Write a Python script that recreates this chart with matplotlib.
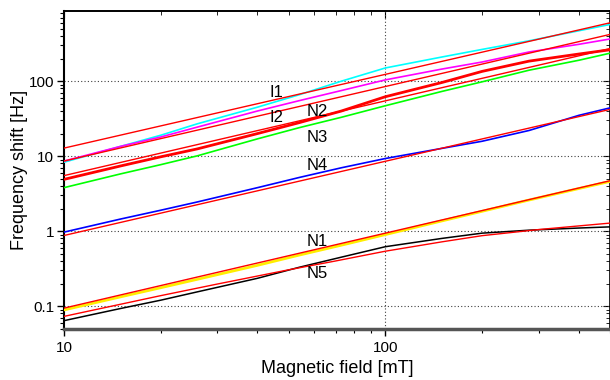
import matplotlib
matplotlib.use("Agg")
import matplotlib.pyplot as plt
from matplotlib.ticker import LogLocator, NullFormatter, FixedLocator, FixedFormatter

plt.rcParams['font.family'] = ['Liberation Sans', 'DejaVu Sans']

# ---- data ----
field = [10, 15, 20, 26, 40, 54, 73, 100, 150, 200, 280, 400, 500]

i1_cyan = [8.3, 13.5, 19, 27, 45, 66, 100, 150, 210, 265, 345, 470, 570]
i2_magenta = [8.6, 13.5, 18, 24.4, 40, 55, 75, 104, 145, 180, 245, 310, 365]
n2_red = [4.9, 7.4, 9.8, 12.5, 20, 28, 40, 62, 96, 135, 185, 230, 262]
n3_green = [3.8, 5.8, 7.7, 10.1, 17, 24, 33, 47, 73, 98, 140, 190, 236]
n4_blue = [0.97, 1.45, 1.9, 2.45, 3.8, 5.2, 7.0, 9.3, 12.7, 15.8, 22, 35, 44]
n1_yellow = [0.089, 0.133, 0.176, 0.228, 0.35, 0.48, 0.65, 0.9, 1.37, 1.84, 2.6, 3.7, 4.6]
n5_black = [0.064, 0.093, 0.12, 0.155, 0.235, 0.33, 0.45, 0.62, 0.80, 0.94, 1.03, 1.10, 1.14]

fit_ends = [10, 500]
fit_i1 = [12.8, 600]
fit_i2 = [8.6, 420]
fit_n2 = [5.5, 272]
fit_n4 = [0.875, 42]
fit_n1 = [0.094, 4.7]

n5_fit_field = [10, 20, 30, 50, 70, 100, 150, 200, 300, 500]
n5_fit = [0.073, 0.138, 0.197, 0.305, 0.40, 0.54, 0.72, 0.87, 1.05, 1.28]

labels = ['I1', 'I2', 'N2', 'N3', 'N4', 'N1', 'N5']
label_x = [45.9, 45.9, 61.5, 61.5, 61.5, 61.5, 61.5]
label_y = [69.8, 32.4, 39, 17.5, 7.43, 0.72, 0.27]

x_ticks = [10, 100]
x_ticklabels = ['10', '100']
y_ticks = [0.1, 1, 10, 100]
y_ticklabels = ['0.1', '1', '10', '100']

# ---- figure ----
fig = plt.figure(figsize=(6.1, 3.8), dpi=100)
ax = fig.add_axes([64/610, 51.3/380, 546/610, 318/380])
ax.set_xscale('log')
ax.set_yscale('log')
ax.set_xlim(10, 500)
ax.set_ylim(0.05, 870)

# grid (major only)
for yv in y_ticks:
    ax.axhline(yv, color='0.25', lw=0.8, ls=(0, (1, 2)), zorder=1)
ax.axvline(100, color='0.25', lw=0.8, ls=(0, (1, 2)), zorder=1)

# data
ax.plot(field, i1_cyan, color='#00ffff', lw=1.2, zorder=3)
ax.plot(field, i2_magenta, color='#ff00ff', lw=1.2, zorder=3)
ax.plot(field, n2_red, color='#ff0000', lw=2.0, zorder=3)
ax.plot(field, n3_green, color='#00ff00', lw=1.2, zorder=3)
ax.plot(field, n4_blue, color='#0000ff', lw=1.2, zorder=3)
ax.plot(field, n1_yellow, color='#ffee00', lw=2.0, zorder=3)
ax.plot(field, n5_black, color='black', lw=1.1, zorder=3)

# fits
for fy in (fit_i1, fit_i2, fit_n2, fit_n4, fit_n1):
    ax.plot(fit_ends, fy, color='#ff0000', lw=1.0, zorder=4)
ax.plot(n5_fit_field, n5_fit, color='#ff0000', lw=1.0, zorder=4)

for t, lx, ly in zip(labels, label_x, label_y):
    ax.text(lx, ly, t, fontsize=12, ha='center', va='center', zorder=5)

# ticks
ax.xaxis.set_major_locator(FixedLocator(x_ticks))
ax.xaxis.set_major_formatter(FixedFormatter(x_ticklabels))
ax.xaxis.set_minor_locator(LogLocator(base=10, subs=range(2, 10)))
ax.xaxis.set_minor_formatter(NullFormatter())
ax.yaxis.set_major_locator(FixedLocator(y_ticks))
ax.yaxis.set_major_formatter(FixedFormatter(y_ticklabels))
ax.yaxis.set_minor_locator(LogLocator(base=10, subs=range(2, 10)))
ax.yaxis.set_minor_formatter(NullFormatter())
ax.tick_params(which='major', direction='out', length=5, width=1.0, labelsize=11, pad=2)
ax.tick_params(which='minor', direction='out', length=3, width=0.8)
ax.tick_params(axis='x', which='major', pad=4)

for side in ('top', 'right'):
    ax.spines[side].set_linewidth(1.2)
    ax.spines[side].set_color('black')
ax.spines['left'].set_linewidth(1.5)
ax.spines['left'].set_color('black')
ax.spines['bottom'].set_linewidth(2.5)
ax.spines['bottom'].set_color('#555555')

secx = ax.secondary_xaxis('top')
secx.set_xscale('log')
secx.xaxis.set_major_locator(FixedLocator(x_ticks))
secx.xaxis.set_minor_locator(LogLocator(base=10, subs=range(2, 10)))
secx.tick_params(which='major', direction='in', length=5, labeltop=False)
secx.tick_params(which='minor', direction='in', length=3)
secx.xaxis.set_minor_formatter(NullFormatter())
secx.spines['top'].set_linewidth(1.2)

secy = ax.secondary_yaxis('right')
secy.yaxis.set_major_locator(FixedLocator(y_ticks))
secy.yaxis.set_minor_locator(LogLocator(base=10, subs=range(2, 10)))
secy.tick_params(which='major', direction='in', length=5, labelright=False)
secy.tick_params(which='minor', direction='in', length=3)
secy.yaxis.set_minor_formatter(NullFormatter())

ax.set_xlabel('Magnetic field [mT]', fontsize=13)
ax.set_ylabel('Frequency shift [Hz]', fontsize=13)
ax.xaxis.set_label_coords(0.5, -0.098)
ax.yaxis.set_label_coords(-0.066, 0.5)

fig.savefig('out.png', dpi=100)
